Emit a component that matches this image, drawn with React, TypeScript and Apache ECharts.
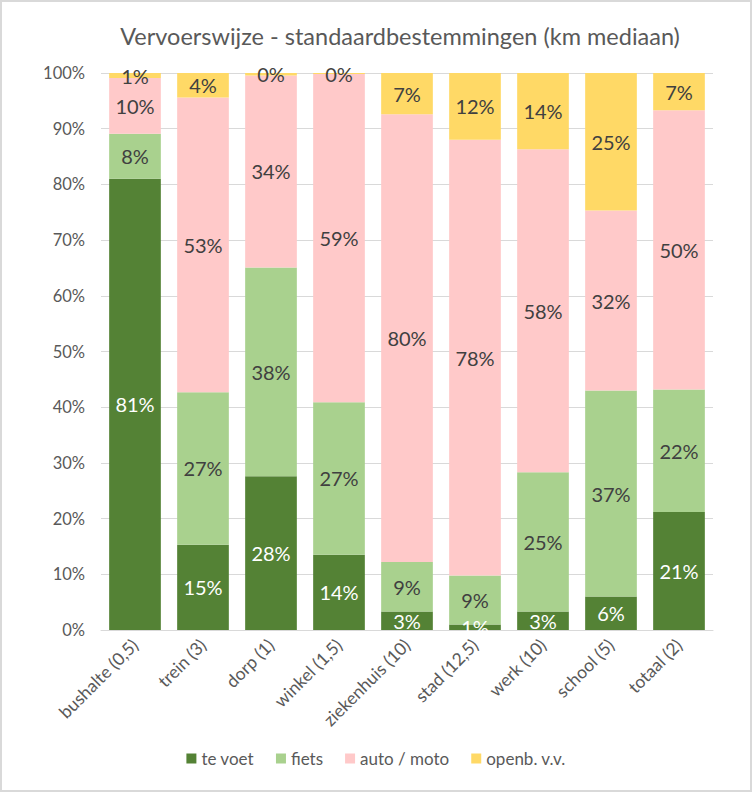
import React, { useEffect, useRef } from "react";
import * as echarts from "echarts";

const categories = ["bushalte (0,5)", "trein (3)", "dorp (1)", "winkel (1,5)", "ziekenhuis (10)", "stad (12,5)", "werk (10)", "school (5)", "totaal (2)"];
const teVoet = [81, 15.3, 27.6, 13.5, 3.3, 1, 3.3, 6, 21.2];
const fiets = [8.1, 27.4, 37.5, 27.4, 8.9, 8.8, 25, 37, 22];
const autoMoto = [10, 52.9, 34.45, 58.9, 80.4, 78.2, 58, 32.3, 50.1];
const openbVV = [0.9, 4.4, 0.45, 0.2, 7.4, 12, 13.7, 24.7, 6.7];
const seriesNames = ["te voet", "fiets", "auto / moto", "openb. v.v."];
const seriesColors = ["#548235", "#a9d18e", "#ffc9c9", "#ffd966"];
const labelColors = ["#ffffff", "#404040", "#404040", "#404040"];

const FONT = "Lato, 'Open Sans', sans-serif";

export default function App() {
  const ref = useRef<HTMLDivElement>(null);
  useEffect(() => {
    const chart = echarts.init(ref.current!, undefined, { renderer: "svg" });
    const data = [teVoet, fiets, autoMoto, openbVV];
    chart.setOption({
      animation: false,
      backgroundColor: "#ffffff",
      textStyle: { fontFamily: FONT },
      title: {
        text: "Vervoerswijze - standaardbestemmingen (km mediaan)",
        left: 395,
        top: 19,
        textAlign: "center",
        textStyle: { fontFamily: FONT, fontSize: 23.5, fontWeight: "normal", color: "#595959" },
      },
      legend: {
        bottom: 20,
        left: "center",
        itemWidth: 10,
        itemHeight: 10,
        itemGap: 22,
        icon: "rect",
        textStyle: { fontFamily: FONT, fontSize: 17, color: "#595959" },
        data: seriesNames,
      },
      grid: { left: 101, right: 39, top: 73, bottom: 162 },
      xAxis: {
        type: "category",
        data: categories,
        axisLine: { lineStyle: { color: "#d9d9d9", width: 1 } },
        axisTick: { show: false },
        axisLabel: { rotate: 45, fontFamily: FONT, fontSize: 17.5, color: "#595959", interval: 0, margin: 12 },
      },
      yAxis: {
        type: "value",
        min: 0,
        max: 100,
        interval: 10,
        axisLine: { show: false },
        axisTick: { show: false },
        splitLine: { lineStyle: { color: "#d9d9d9", width: 1 } },
        axisLabel: { formatter: "{value}%", fontFamily: FONT, fontSize: 16.5, color: "#595959", margin: 16 },
      },
      graphic: [
        {
          type: "rect",
          shape: { x: 1, y: 1, width: 750, height: 790 },
          style: { fill: "none", stroke: "#d9d9d9", lineWidth: 2 },
          silent: true,
        },
      ],
      series: seriesNames.map((name, i) => ({
        name,
        type: "bar",
        stack: "total",
        barCategoryGap: "24%",
        data: data[i],
        itemStyle: { color: seriesColors[i] },
        label: {
          show: true,
          position: "inside",
          formatter: (p: any) => Math.round(p.value) + "%",
          fontFamily: FONT,
          fontSize: 20,
          color: labelColors[i],
        },
      })),
    });
    return () => chart.dispose();
  }, []);
  return (
    <div
      ref={ref}
      style={{ position: "fixed", left: 0, top: 0, width: 752, height: 792 }}
    />
  );
}
